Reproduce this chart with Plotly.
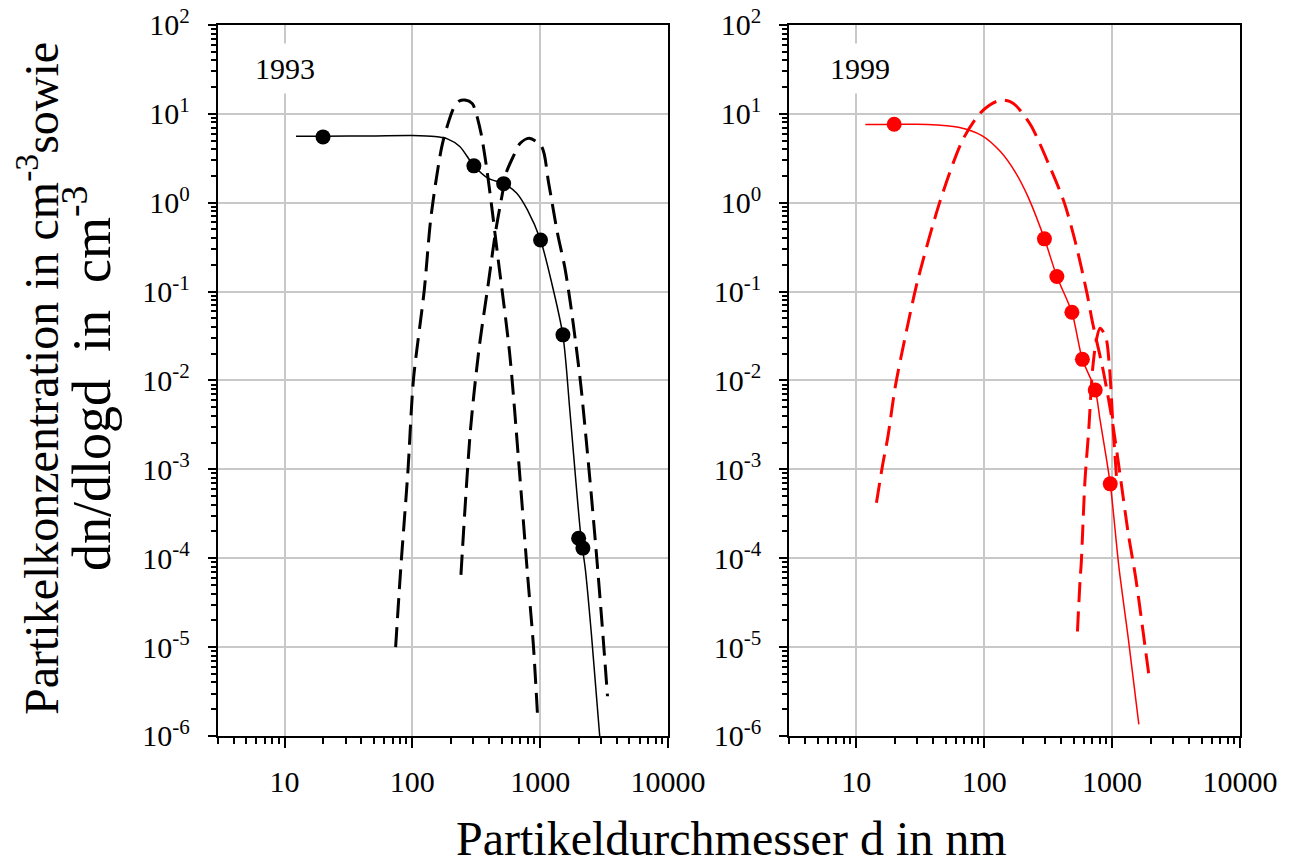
import plotly.graph_objects as go

# ---- 1993: measured points, fitted size distribution and its two modes ----
d93_meas = [20, 303, 518, 1007, 1508, 2000, 2160]
n93_meas = [5.5, 2.6, 1.64, 0.38, 0.0326, 1.68e-4, 1.3e-4]

d93_fit = [12.3, 20, 50, 100, 150, 190, 235, 303, 392, 518, 656, 795, 1007,
           1230, 1508, 1714, 2080, 2260, 2518, 2924]
n93_fit = [5.6, 5.6, 5.65, 5.7, 5.55, 5.2, 4.3, 2.6, 1.88, 1.64, 1.28, 0.83, 0.38,
           0.126, 0.032, 4.3e-3, 1.8e-4, 7.4e-5, 1.4e-5, 1.0e-6]

d93_mode1 = [74, 81, 92.5, 102, 124, 140, 170, 194, 213, 234, 258, 294, 313, 345,
             380, 418, 460, 577, 677, 795, 883, 955]
n93_mode1 = [1.0e-5, 7.4e-5, 9.9e-4, 0.0102, 0.104, 0.70, 4.28, 8.5, 12.0, 14.0,
             14.3, 13.1, 10.6, 6.0, 2.55, 0.90, 0.29, 0.0203, 1.3e-3, 6.8e-5,
             1.1e-5, 1.66e-6]

d93_mode2 = [240, 285, 334, 392, 446, 507, 541, 615, 698, 822, 1026, 1166, 1368,
             1556, 1714, 1888, 2080, 2286, 2518, 2773, 3055, 3365]
n93_mode2 = [6.5e-5, 2.8e-3, 0.024, 0.12, 0.454, 1.28, 2.14, 3.3, 4.67, 5.3, 4.28,
             1.66, 0.45, 0.19, 0.079, 0.028, 8.9e-3, 2.24e-3, 5.0e-4, 1.0e-4,
             1.78e-5, 2.8e-6]

# ---- 1999 ----
d99_meas = [19.8, 296, 370, 485, 586, 738, 967]
n99_meas = [7.63, 0.392, 0.148, 0.0585, 0.0173, 7.8e-3, 6.87e-4]

d99_fit = [11.8, 20, 36, 63, 96, 134, 176, 223, 296, 370, 485, 586, 738, 805, 967,
           1130, 1343, 1618]
n99_fit = [7.6, 7.6, 7.6, 7.06, 5.69, 3.76, 2.18, 1.12, 0.392, 0.148, 0.0585, 0.0173,
           7.8e-3, 3.6e-3, 6.87e-4, 8.0e-5, 1.2e-5, 1.35e-6]

d99_mode1 = [14.4, 16, 17.7, 20.2, 24.8, 30.3, 45.5, 68, 92.5, 110, 125, 139, 158,
             176, 231, 334, 424, 519, 636, 703, 861, 1020, 1169, 1337, 1530, 1812,
             1940]
n99_mode1 = [4.2e-4, 1.07e-3, 2.34e-3, 8.5e-3, 0.037, 0.135, 1.07, 5.1, 10.1, 12.5,
             13.8, 14.3, 13.8, 12.5, 7.5, 2.34, 0.99, 0.35, 0.096, 0.045, 0.012,
             3.0e-3, 7.6e-4, 1.9e-4, 6.0e-5, 1.0e-5, 4.8e-6]

d99_mode2 = [536, 562, 574, 614, 657, 703, 753, 805, 891, 953, 1020, 1091]
n99_mode2 = [1.5e-5, 5.7e-5, 8.8e-5, 7.6e-4, 2.8e-3, 0.0131, 0.0286, 0.0387, 0.031,
             0.0143, 2.8e-3, 7.0e-4]

x_ticks = [10, 100, 1000, 10000]
y_exponents = [-6, -5, -4, -3, -2, -1, 0, 1, 2]

FONT = "Liberation Serif"
BLACK = "#000000"
RED = "#ff0000"
DASH = "20px,9px"

fig = go.Figure()


def add_panel(d_fit, n_fit, d_m1, n_m1, d_m2, n_m2, d_meas, n_meas, color, xa, ya):
    for d, n in ((d_m1, n_m1), (d_m2, n_m2)):
        fig.add_trace(go.Scatter(x=d, y=n, mode="lines", xaxis=xa, yaxis=ya,
                                 line=dict(color=color, width=3, dash=DASH,
                                           shape="spline", smoothing=0.8),
                                 showlegend=False, hoverinfo="skip"))
    fig.add_trace(go.Scatter(x=d_fit, y=n_fit, mode="lines", xaxis=xa, yaxis=ya,
                             line=dict(color=color, width=1.5, shape="spline",
                                       smoothing=0.8),
                             showlegend=False, hoverinfo="skip"))
    fig.add_trace(go.Scatter(x=d_meas, y=n_meas, mode="markers", xaxis=xa, yaxis=ya,
                             marker=dict(color=color, size=15, line=dict(width=0)),
                             showlegend=False))


add_panel(d93_fit, n93_fit, d93_mode1, n93_mode1, d93_mode2, n93_mode2,
          d93_meas, n93_meas, BLACK, "x", "y")
add_panel(d99_fit, n99_fit, d99_mode1, n99_mode1, d99_mode2, n99_mode2,
          d99_meas, n99_meas, RED, "x2", "y2")

# minor tick positions: 2..9 within each decade
x_minor = [m * 10 ** e for e in range(0, 4) for m in range(2, 10)]
y_minor = [m * 10.0 ** e for e in range(-6, 2) for m in range(2, 10)]

common = dict(type="log", showline=True, linecolor=BLACK, linewidth=2, mirror=True,
              ticks="outside", tickcolor=BLACK, tickwidth=1.5,
              showgrid=True, gridcolor="#c8c8c8", gridwidth=1.5, zeroline=False,
              tickfont=dict(family=FONT, size=30, color=BLACK))

xcommon = dict(common, range=[0.4771, 4], tickmode="array", tickvals=x_ticks,
               ticktext=[str(v) for v in x_ticks], ticklen=10, ticklabelstandoff=8,
               minor=dict(tickmode="array", tickvals=x_minor, ticks="outside",
                          ticklen=6, tickwidth=1.5, tickcolor=BLACK, showgrid=False))
ycommon = dict(common, range=[-6, 2], tickmode="array",
               tickvals=[10.0 ** e for e in y_exponents],
               ticktext=["10<sup>%d</sup>" % e for e in y_exponents],
               ticklen=8, ticklabelstandoff=12,
               minor=dict(tickmode="array", tickvals=y_minor, ticks="outside",
                          ticklen=5, tickwidth=1.5, tickcolor=BLACK, showgrid=False))

ydom = [0.1511, 0.9712]
fig.update_layout(
    width=1292, height=867,
    margin=dict(l=0, r=0, t=0, b=0, autoexpand=False),
    paper_bgcolor="white", plot_bgcolor="white",
    xaxis=dict(xcommon, domain=[0.1685, 0.517], anchor="y"),
    yaxis=dict(ycommon, domain=ydom, anchor="x"),
    xaxis2=dict(xcommon, domain=[0.6109, 0.9598], anchor="y2"),
    yaxis2=dict(ycommon, domain=ydom, anchor="x2"),
)

annotations = [
    dict(text="1993", x=1.003, y=1.505, xref="x", yref="y", showarrow=False,
         font=dict(family=FONT, size=30, color=BLACK), bgcolor="white", borderpad=8),
    dict(text="1999", x=1.03, y=1.505, xref="x2", yref="y2", showarrow=False,
         font=dict(family=FONT, size=30, color=BLACK), bgcolor="white", borderpad=8),
    dict(text="Partikelkonzentration in cm<sup>-3</sup>sowie", x=38 / 1292,
         y=1 - 379 / 867, xref="paper", yref="paper", textangle=-90, showarrow=False,
         xanchor="center", yanchor="middle",
         font=dict(family=FONT, size=48, color=BLACK)),
    dict(text="dn/dlogd\u00a0 in\u00a0 cm<sup>-3</sup>", x=88 / 1292,
         y=1 - 379 / 867, xref="paper", yref="paper", textangle=-90,
         showarrow=False, xanchor="center", yanchor="middle",
         font=dict(family=FONT, size=54, color=BLACK)),
    dict(text="Partikeldurchmesser d in nm", x=731 / 1292, y=0,
         xref="paper", yref="paper", showarrow=False, xanchor="center",
         yanchor="bottom", font=dict(family=FONT, size=48, color=BLACK)),
]
fig.update_layout(annotations=annotations)

fig.write_html("out.html")
